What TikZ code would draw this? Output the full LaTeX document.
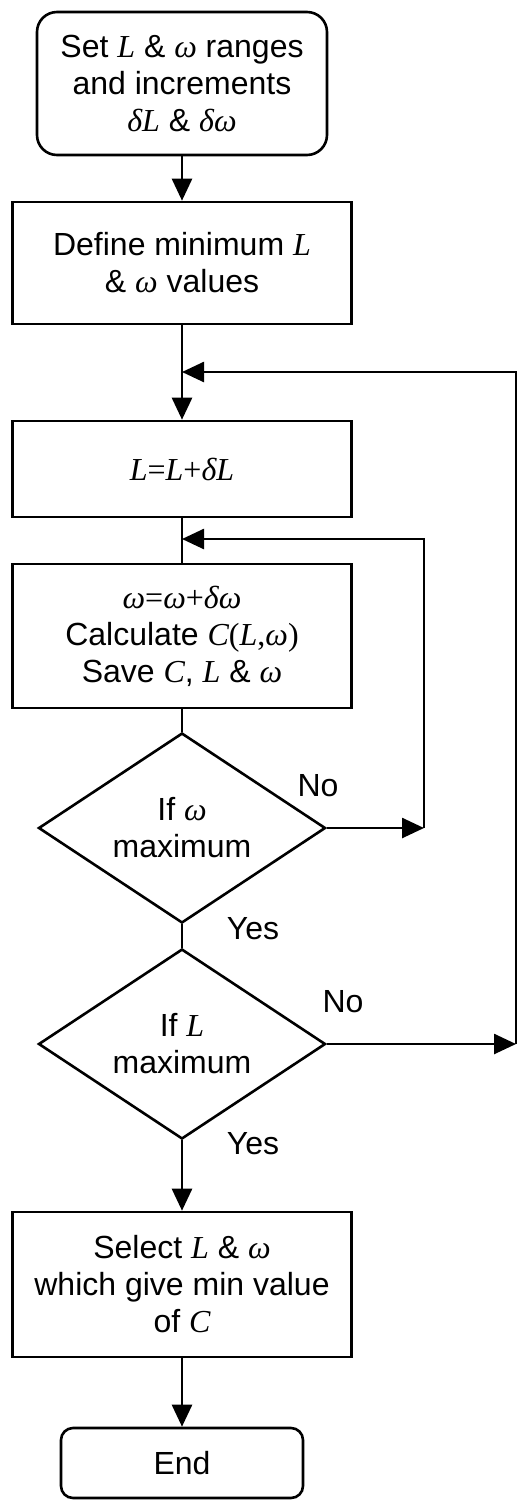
\documentclass[tikz,border=0pt]{standalone}
\usepackage{fontspec}
\setmainfont{Liberation Sans}
\newfontfamily\timesfont{Liberation Serif}
\usetikzlibrary{shapes.geometric,arrows.meta}
\newcommand{\vi}[1]{{\timesfont\itshape #1}}
\newcommand{\vu}[1]{{\timesfont #1}}

\begin{document}
\begin{tikzpicture}[x=1pt, y=-1pt, line width=2.6pt,
    >={Triangle[length=22pt,width=20pt]},
    every node/.style={font=\fontsize{32}{37}\selectfont, align=center},
    box/.style={draw, rectangle, minimum width=339pt, inner sep=0pt},
    terminal/.style={draw, rectangle, rounded corners=20pt, inner sep=0pt},
    decision/.style={draw, diamond, aspect=1.5, minimum width=287pt, minimum height=190pt, inner sep=0pt}]
    \useasboundingbox (0,0) rectangle (517,1500);

    \node[terminal, minimum width=290pt, minimum height=143pt] (start) at (182,83.5) {Set \vi{L} \& \vi{ω} ranges\\and increments\\\vi{δL} \& \vi{δω}};
    \node[box, minimum height=122pt] (define) at (182,263) {Define minimum \vi{L}\\\& \vi{ω} values};
    \node[box, minimum height=96pt] (incL) at (182,469) {\vi{L}\vu{=}\vi{L}\vu{+}\vi{δL}};
    \node[box, minimum height=144pt] (incw) at (182,636) {\vi{ω}\vu{=}\vi{ω}\vu{+}\vi{δω}\\Calculate \vi{C}\vu{(}\vi{L}\vu{,}\vi{ω}\vu{)}\\Save \vi{C}, \vi{L} \& \vi{ω}};
    \node[decision] (wmax) at (182,828) {If \vi{ω}\\maximum};
    \node[decision] (Lmax) at (182,1044) {If \vi{L}\\maximum};
    \node[box, minimum height=145pt] (select) at (182,1284.5) {Select \vi{L} \& \vi{ω}\\which give min value\\of \vi{C}};
    \node[terminal, rounded corners=12pt, minimum width=242pt, minimum height=70pt] (end) at (182,1463) {End};

    \coordinate (outerjoin) at (182,372);
    \coordinate (innerjoin) at (182,539);
    \coordinate (wno) at (424,828);
    \coordinate (Lno) at (516,1044);

    \node (no1) at (318,786) {No};
    \node (yes1) at (253,929) {Yes};
    \node (no2) at (343,1002) {No};
    \node (yes2) at (253,1144) {Yes};

    \draw[->] (start) -- (define);
    \draw (define) -- (outerjoin);
    \draw[->] (outerjoin) -- (incL);
    \draw (incL) -- (incw);
    \draw (incw) -- (wmax);
    \draw (wmax) -- (Lmax);
    \draw[->] (Lmax) -- (select);
    \draw[->] (select) -- (end);
    \draw[->] (wmax) -- (wno);
    \draw[->] (wno) |- (innerjoin);
    \draw[->] (Lmax) -- (Lno);
    \draw[->] (Lno) |- (outerjoin);
\end{tikzpicture}
\end{document}
